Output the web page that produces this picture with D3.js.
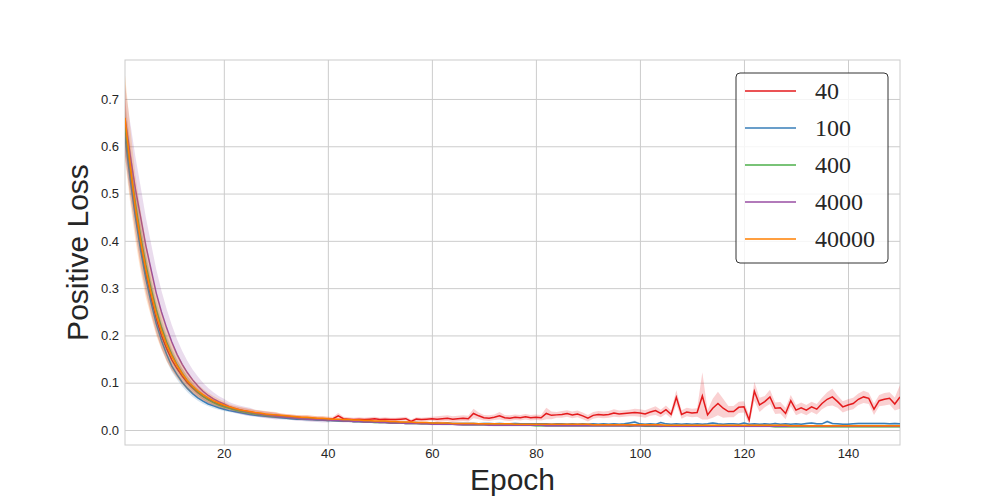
<!DOCTYPE html>
<html>
<head>
<meta charset="utf-8">
<script src="https://cdn.jsdelivr.net/npm/d3@7"></script>
<style>
  body { margin: 0; background: #fff; }
  .grid line { stroke: #cccccc; stroke-width: 1; }
  .tick text { fill: #262626; font-family: "Liberation Sans", Arial, sans-serif; font-size: 13px; }
</style>
</head>
<body>
<svg id="chart" width="1000" height="500"></svg>
<script>
// series labels (legend) and colours
var seriesNames = ["40", "100", "400", "4000", "40000"];
var seriesColors = ["#e41a1c", "#377eb8", "#4daf4a", "#984ea3", "#ff7f00"];

var xTicks = [20, 40, 60, 80, 100, 120, 140];
var yTicks = [0.0, 0.1, 0.2, 0.3, 0.4, 0.5, 0.6, 0.7];

// mean positive loss per epoch (epochs 1..150)
var loss40 = [
  0.64,0.55,0.465,0.39,0.33,0.28,0.235,0.2,0.172,0.148,
  0.13,0.114,0.1,0.089,0.079,0.071,0.065,0.059,0.055,0.051,
  0.047,0.044,0.042,0.04,0.038,0.036,0.034,0.033,0.032,0.031,
  0.03,0.029,0.028,0.027,0.026,0.026,0.025,0.024,0.024,0.023,
  0.024,0.03,0.024,0.023,0.022,0.023,0.022,0.023,0.024,0.022,
  0.023,0.022,0.022,0.023,0.024,0.018,0.023,0.022,0.023,0.024,
  0.023,0.024,0.025,0.023,0.024,0.025,0.024,0.035,0.03,0.026,
  0.025,0.027,0.03,0.026,0.025,0.027,0.026,0.028,0.026,0.027,
  0.026,0.035,0.031,0.032,0.033,0.035,0.032,0.034,0.03,0.025,
  0.031,0.033,0.032,0.033,0.036,0.034,0.035,0.036,0.037,0.036,
  0.034,0.038,0.041,0.035,0.043,0.033,0.069,0.033,0.038,0.036,
  0.037,0.072,0.032,0.046,0.056,0.046,0.039,0.039,0.048,0.049,
  0.021,0.082,0.053,0.06,0.07,0.046,0.047,0.035,0.062,0.042,
  0.047,0.042,0.049,0.044,0.056,0.065,0.07,0.06,0.049,0.053,
  0.056,0.065,0.07,0.067,0.044,0.062,0.065,0.067,0.055,0.07
];
var loss100 = [
  0.62,0.53,0.45,0.38,0.32,0.27,0.225,0.19,0.16,0.135,
  0.117,0.101,0.088,0.077,0.068,0.061,0.055,0.051,0.047,0.044,
  0.041,0.039,0.037,0.035,0.033,0.031,0.03,0.029,0.028,0.027,
  0.026,0.025,0.024,0.023,0.023,0.022,0.022,0.021,0.021,0.02,
  0.02,0.019,0.019,0.019,0.018,0.018,0.018,0.017,0.017,0.017,
  0.017,0.016,0.016,0.016,0.016,0.015,0.016,0.015,0.015,0.015,
  0.015,0.014,0.015,0.014,0.014,0.014,0.014,0.014,0.013,0.014,
  0.014,0.013,0.014,0.013,0.013,0.014,0.013,0.013,0.013,0.013,
  0.013,0.013,0.012,0.013,0.013,0.012,0.013,0.012,0.013,0.012,
  0.013,0.012,0.013,0.012,0.013,0.012,0.013,0.015,0.017,0.013,
  0.012,0.013,0.012,0.016,0.013,0.012,0.013,0.012,0.013,0.012,
  0.013,0.012,0.013,0.015,0.013,0.012,0.013,0.013,0.012,0.015,
  0.012,0.013,0.012,0.013,0.012,0.014,0.012,0.013,0.012,0.013,
  0.012,0.014,0.015,0.013,0.013,0.018,0.014,0.013,0.012,0.012,
  0.013,0.014,0.014,0.014,0.014,0.014,0.014,0.013,0.014,0.013
];
var loss400 = [
  0.64,0.56,0.48,0.41,0.35,0.3,0.255,0.218,0.186,0.16,
  0.138,0.12,0.104,0.091,0.08,0.071,0.064,0.058,0.053,0.049,
  0.046,0.043,0.04,0.038,0.036,0.034,0.033,0.031,0.03,0.029,
  0.028,0.027,0.026,0.025,0.024,0.023,0.023,0.022,0.022,0.021,
  0.02,0.02,0.019,0.019,0.018,0.018,0.017,0.017,0.016,0.016,
  0.016,0.015,0.015,0.015,0.014,0.014,0.014,0.013,0.013,0.013,
  0.013,0.012,0.012,0.012,0.012,0.011,0.011,0.011,0.011,0.011,
  0.011,0.01,0.01,0.01,0.01,0.01,0.01,0.01,0.01,0.009,
  0.009,0.009,0.009,0.009,0.009,0.009,0.009,0.009,0.009,0.009,
  0.009,0.009,0.009,0.009,0.009,0.009,0.009,0.008,0.009,0.009,
  0.008,0.008,0.008,0.008,0.008,0.008,0.008,0.008,0.008,0.008,
  0.008,0.008,0.008,0.008,0.008,0.008,0.008,0.008,0.008,0.008,
  0.008,0.008,0.008,0.008,0.008,0.007,0.007,0.007,0.007,0.007,
  0.007,0.007,0.007,0.007,0.007,0.007,0.007,0.007,0.007,0.007,
  0.007,0.007,0.007,0.007,0.007,0.007,0.007,0.007,0.007,0.007
];
var loss4000 = [
  0.66,0.58,0.51,0.45,0.39,0.34,0.29,0.25,0.216,0.186,
  0.16,0.139,0.121,0.106,0.093,0.082,0.073,0.066,0.06,0.055,
  0.05,0.046,0.043,0.04,0.038,0.036,0.034,0.032,0.031,0.029,
  0.028,0.027,0.026,0.025,0.024,0.023,0.022,0.022,0.021,0.021,
  0.02,0.02,0.019,0.019,0.018,0.018,0.017,0.017,0.017,0.016,
  0.016,0.015,0.015,0.015,0.014,0.014,0.014,0.013,0.013,0.012,
  0.012,0.012,0.012,0.012,0.011,0.011,0.011,0.011,0.011,0.011,
  0.01,0.01,0.01,0.01,0.01,0.01,0.01,0.01,0.01,0.01,
  0.01,0.009,0.009,0.009,0.009,0.009,0.009,0.009,0.009,0.009,
  0.009,0.009,0.009,0.009,0.009,0.009,0.009,0.009,0.009,0.009,
  0.009,0.009,0.009,0.008,0.009,0.008,0.008,0.008,0.008,0.008,
  0.008,0.008,0.008,0.008,0.008,0.008,0.008,0.008,0.008,0.008,
  0.008,0.008,0.008,0.008,0.008,0.008,0.008,0.008,0.008,0.008,
  0.008,0.008,0.008,0.008,0.008,0.008,0.008,0.008,0.008,0.008,
  0.008,0.008,0.008,0.008,0.008,0.008,0.008,0.008,0.008,0.008
];
var loss40000 = [
  0.66,0.56,0.47,0.4,0.34,0.29,0.245,0.21,0.18,0.156,
  0.136,0.119,0.104,0.093,0.083,0.075,0.068,0.062,0.057,0.053,
  0.049,0.046,0.043,0.041,0.039,0.037,0.036,0.034,0.033,0.032,
  0.031,0.03,0.029,0.028,0.027,0.027,0.026,0.025,0.025,0.024,
  0.023,0.023,0.022,0.022,0.021,0.021,0.02,0.02,0.019,0.019,
  0.019,0.018,0.018,0.017,0.017,0.017,0.016,0.016,0.016,0.015,
  0.015,0.015,0.015,0.014,0.014,0.014,0.014,0.014,0.013,0.013,
  0.013,0.013,0.013,0.013,0.013,0.012,0.012,0.012,0.012,0.012,
  0.012,0.012,0.012,0.012,0.012,0.012,0.012,0.012,0.012,0.012,
  0.011,0.011,0.011,0.011,0.011,0.011,0.011,0.011,0.011,0.011,
  0.011,0.011,0.011,0.011,0.01,0.01,0.01,0.01,0.01,0.01,
  0.01,0.01,0.01,0.01,0.01,0.01,0.01,0.01,0.01,0.01,
  0.01,0.01,0.01,0.01,0.01,0.01,0.01,0.01,0.009,0.009,
  0.009,0.009,0.009,0.009,0.009,0.009,0.009,0.009,0.009,0.009,
  0.009,0.009,0.009,0.009,0.009,0.009,0.009,0.009,0.009,0.009
];

// half width of the confidence band per epoch
var band40 = [
  0.06,0.055,0.05,0.045,0.04,0.035,0.03,0.027,0.024,0.021,
  0.018,0.016,0.014,0.012,0.011,0.01,0.009,0.008,0.007,0.007,
  0.006,0.006,0.006,0.006,0.006,0.006,0.006,0.006,0.006,0.006,
  0.005,0.005,0.005,0.005,0.005,0.005,0.005,0.005,0.005,0.005,
  0.004,0.006,0.004,0.004,0.004,0.004,0.004,0.004,0.004,0.004,
  0.004,0.004,0.004,0.004,0.004,0.004,0.004,0.004,0.004,0.004,
  0.006,0.006,0.006,0.006,0.006,0.006,0.006,0.01,0.007,0.006,
  0.006,0.006,0.008,0.006,0.006,0.006,0.006,0.006,0.006,0.006,
  0.006,0.012,0.008,0.006,0.007,0.007,0.007,0.007,0.007,0.007,
  0.007,0.007,0.007,0.007,0.008,0.007,0.007,0.007,0.008,0.008,
  0.008,0.008,0.009,0.008,0.009,0.008,0.015,0.009,0.009,0.009,
  0.009,0.05,0.01,0.02,0.025,0.02,0.012,0.012,0.012,0.012,
  0.01,0.02,0.015,0.012,0.015,0.012,0.012,0.012,0.012,0.011,
  0.011,0.011,0.011,0.011,0.012,0.015,0.018,0.013,0.012,0.012,
  0.012,0.012,0.013,0.012,0.012,0.012,0.013,0.013,0.014,0.025
];
var band100 = [
  0.04,0.035,0.03,0.027,0.024,0.021,0.018,0.016,0.014,0.012,
  0.01,0.009,0.008,0.007,0.006,0.006,0.005,0.005,0.004,0.004,
  0.003,0.003,0.003,0.003,0.003,0.003,0.003,0.003,0.003,0.003,
  0.003,0.003,0.003,0.003,0.003,0.003,0.003,0.003,0.003,0.003,
  0.002,0.002,0.002,0.002,0.002,0.002,0.002,0.002,0.002,0.002,
  0.002,0.002,0.002,0.002,0.002,0.002,0.002,0.002,0.002,0.002,
  0.002,0.002,0.002,0.002,0.002,0.002,0.002,0.002,0.002,0.002,
  0.002,0.002,0.002,0.002,0.002,0.002,0.002,0.002,0.002,0.002,
  0.002,0.002,0.002,0.002,0.002,0.002,0.002,0.002,0.002,0.002,
  0.002,0.002,0.002,0.002,0.002,0.002,0.002,0.002,0.003,0.002,
  0.002,0.002,0.002,0.002,0.002,0.002,0.002,0.002,0.002,0.002,
  0.002,0.002,0.002,0.002,0.002,0.002,0.002,0.002,0.002,0.002,
  0.002,0.002,0.002,0.002,0.002,0.002,0.002,0.002,0.002,0.002,
  0.002,0.002,0.002,0.002,0.002,0.003,0.002,0.002,0.002,0.002,
  0.002,0.002,0.002,0.002,0.002,0.002,0.002,0.002,0.002,0.002
];
var band400 = [
  0.04,0.035,0.032,0.028,0.025,0.022,0.019,0.017,0.015,0.013,
  0.011,0.01,0.009,0.008,0.007,0.006,0.006,0.005,0.005,0.004,
  0.003,0.003,0.003,0.003,0.003,0.003,0.003,0.003,0.003,0.003,
  0.003,0.003,0.003,0.003,0.003,0.003,0.003,0.003,0.003,0.003,
  0.002,0.002,0.002,0.002,0.002,0.002,0.002,0.002,0.002,0.002,
  0.002,0.002,0.002,0.002,0.002,0.002,0.002,0.002,0.002,0.002,
  0.002,0.002,0.002,0.002,0.002,0.002,0.002,0.002,0.002,0.002,
  0.002,0.002,0.002,0.002,0.002,0.002,0.002,0.002,0.002,0.002,
  0.002,0.002,0.002,0.002,0.002,0.002,0.002,0.002,0.002,0.002,
  0.002,0.002,0.002,0.002,0.002,0.002,0.002,0.002,0.002,0.002,
  0.002,0.002,0.002,0.002,0.002,0.002,0.002,0.002,0.002,0.002,
  0.002,0.002,0.002,0.002,0.002,0.002,0.002,0.002,0.002,0.002,
  0.002,0.002,0.002,0.002,0.002,0.002,0.002,0.002,0.002,0.002,
  0.002,0.002,0.002,0.002,0.002,0.002,0.002,0.002,0.002,0.002,
  0.002,0.002,0.002,0.002,0.002,0.002,0.002,0.002,0.002,0.002
];
var band4000 = [
  0.07,0.07,0.068,0.065,0.06,0.055,0.05,0.045,0.04,0.036,
  0.032,0.028,0.025,0.022,0.02,0.018,0.016,0.014,0.012,0.011,
  0.009,0.009,0.009,0.009,0.009,0.007,0.007,0.007,0.007,0.007,
  0.005,0.005,0.005,0.005,0.005,0.005,0.005,0.005,0.005,0.005,
  0.003,0.003,0.003,0.003,0.003,0.002,0.002,0.002,0.002,0.002,
  0.002,0.002,0.002,0.002,0.002,0.002,0.002,0.002,0.002,0.002,
  0.002,0.002,0.002,0.002,0.002,0.002,0.002,0.002,0.002,0.002,
  0.002,0.002,0.002,0.002,0.002,0.002,0.002,0.002,0.002,0.002,
  0.002,0.002,0.002,0.002,0.002,0.002,0.002,0.002,0.002,0.002,
  0.002,0.002,0.002,0.002,0.002,0.002,0.002,0.002,0.002,0.002,
  0.002,0.002,0.002,0.002,0.002,0.002,0.002,0.002,0.002,0.002,
  0.002,0.002,0.002,0.002,0.002,0.002,0.002,0.002,0.002,0.002,
  0.002,0.002,0.002,0.002,0.002,0.002,0.002,0.002,0.002,0.002,
  0.002,0.002,0.002,0.002,0.002,0.002,0.002,0.002,0.002,0.002,
  0.002,0.002,0.002,0.002,0.002,0.002,0.002,0.002,0.002,0.002
];
var band40000 = [
  0.09,0.08,0.07,0.065,0.06,0.05,0.045,0.04,0.035,0.03,
  0.026,0.022,0.019,0.016,0.014,0.012,0.011,0.01,0.009,0.008,
  0.006,0.006,0.006,0.006,0.006,0.006,0.006,0.006,0.006,0.006,
  0.004,0.004,0.004,0.004,0.004,0.004,0.004,0.004,0.004,0.004,
  0.002,0.002,0.002,0.002,0.002,0.002,0.002,0.002,0.002,0.002,
  0.002,0.002,0.002,0.002,0.002,0.002,0.002,0.002,0.002,0.002,
  0.002,0.002,0.002,0.002,0.002,0.002,0.002,0.002,0.002,0.002,
  0.002,0.002,0.002,0.002,0.002,0.002,0.002,0.002,0.002,0.002,
  0.002,0.002,0.002,0.002,0.002,0.002,0.002,0.002,0.002,0.002,
  0.002,0.002,0.002,0.002,0.002,0.002,0.002,0.002,0.002,0.002,
  0.002,0.002,0.002,0.002,0.002,0.002,0.002,0.002,0.002,0.002,
  0.002,0.002,0.002,0.002,0.002,0.002,0.002,0.002,0.002,0.002,
  0.002,0.002,0.002,0.002,0.002,0.002,0.002,0.002,0.002,0.002,
  0.002,0.002,0.002,0.002,0.002,0.002,0.002,0.002,0.002,0.002,
  0.002,0.002,0.002,0.002,0.002,0.002,0.002,0.002,0.002,0.002
];

var seriesLoss = [loss40, loss100, loss400, loss4000, loss40000];
var seriesBand = [band40, band100, band400, band4000, band40000];

function drawLossChart() {
    var margin = {top: 60, right: 100, bottom: 55, left: 125},
        width = 1000 - margin.left - margin.right,
        height = 500 - margin.top - margin.bottom;

    var x = d3.scaleLinear()
        .domain([1, 150])
        .range([0, width]);

    var y = d3.scaleLinear()
        .domain([-0.0317, 0.7824])
        .range([height, 0]);

    var svg = d3.select("#chart");
    var graph = svg.append("g")
        .attr("transform", "translate(" + margin.left + "," + margin.top + ")");

    // grid + tick labels
    graph.append("g")
        .attr("class", "grid")
        .attr("transform", "translate(0," + height + ")")
        .call(d3.axisBottom(x).tickValues(xTicks).tickSize(-height).tickPadding(4).tickFormat(d3.format("d")))
        .call(function(g) { g.select(".domain").remove(); });

    graph.append("g")
        .attr("class", "grid")
        .call(d3.axisLeft(y).tickValues(yTicks).tickSize(-width).tickPadding(6).tickFormat(d3.format(".1f")))
        .call(function(g) { g.select(".domain").remove(); });

    // frame
    graph.append("rect")
        .attr("width", width)
        .attr("height", height)
        .attr("fill", "none")
        .attr("stroke", "#cccccc")
        .attr("stroke-width", 1);

    var plot = graph.append("g");
    plot.append("clipPath").attr("id", "clip")
        .append("rect").attr("width", width).attr("height", height);
    plot.attr("clip-path", "url(#clip)");

    var area = d3.area()
        .x(function(d, i) { return x(i + 1); })
        .y0(function(d) { return y(d.m - d.b); })
        .y1(function(d) { return y(d.m + d.b); });

    var line = d3.line()
        .x(function(d, i) { return x(i + 1); })
        .y(function(d) { return y(d.m); });

    seriesNames.forEach(function(name, s) {
        var data = seriesLoss[s].map(function(v, i) { return {m: v, b: seriesBand[s][i]}; });
        plot.append("path")
            .datum(data)
            .attr("d", area)
            .attr("fill", seriesColors[s])
            .attr("fill-opacity", 0.2);
        plot.append("path")
            .datum(data)
            .attr("d", line)
            .attr("fill", "none")
            .attr("stroke", seriesColors[s])
            .attr("stroke-width", 1.5);
    });

    // axis titles
    svg.append("text")
        .attr("x", margin.left + width / 2)
        .attr("y", 490)
        .attr("text-anchor", "middle")
        .style("font-family", "'Liberation Sans', Arial, sans-serif")
        .style("font-size", "30px")
        .style("fill", "#262626")
        .text("Epoch");

    svg.append("text")
        .attr("transform", "translate(88," + (margin.top + height / 2) + ") rotate(-90)")
        .attr("text-anchor", "middle")
        .style("font-family", "'Liberation Sans', Arial, sans-serif")
        .style("font-size", "30px")
        .style("fill", "#262626")
        .text("Positive Loss");

    // legend
    var legend = svg.append("g").attr("transform", "translate(736,73)");
    legend.append("rect")
        .attr("width", 152)
        .attr("height", 190)
        .attr("rx", 4)
        .attr("fill", "#ffffff")
        .attr("fill-opacity", 0.8)
        .attr("stroke", "#333333")
        .attr("stroke-width", 1);

    seriesNames.forEach(function(name, s) {
        var row = legend.append("g").attr("transform", "translate(0," + (18 + s * 37) + ")");
        row.append("line")
            .attr("x1", 9).attr("x2", 60)
            .attr("stroke", seriesColors[s])
            .attr("stroke-width", 1.5);
        row.append("text")
            .attr("x", 79)
            .attr("dy", "0.35em")
            .style("font-family", "'Liberation Serif', 'Times New Roman', serif")
            .style("font-size", "24px")
            .style("fill", "#262626")
            .text(name);
    });
}

drawLossChart();
</script>
</body>
</html>
